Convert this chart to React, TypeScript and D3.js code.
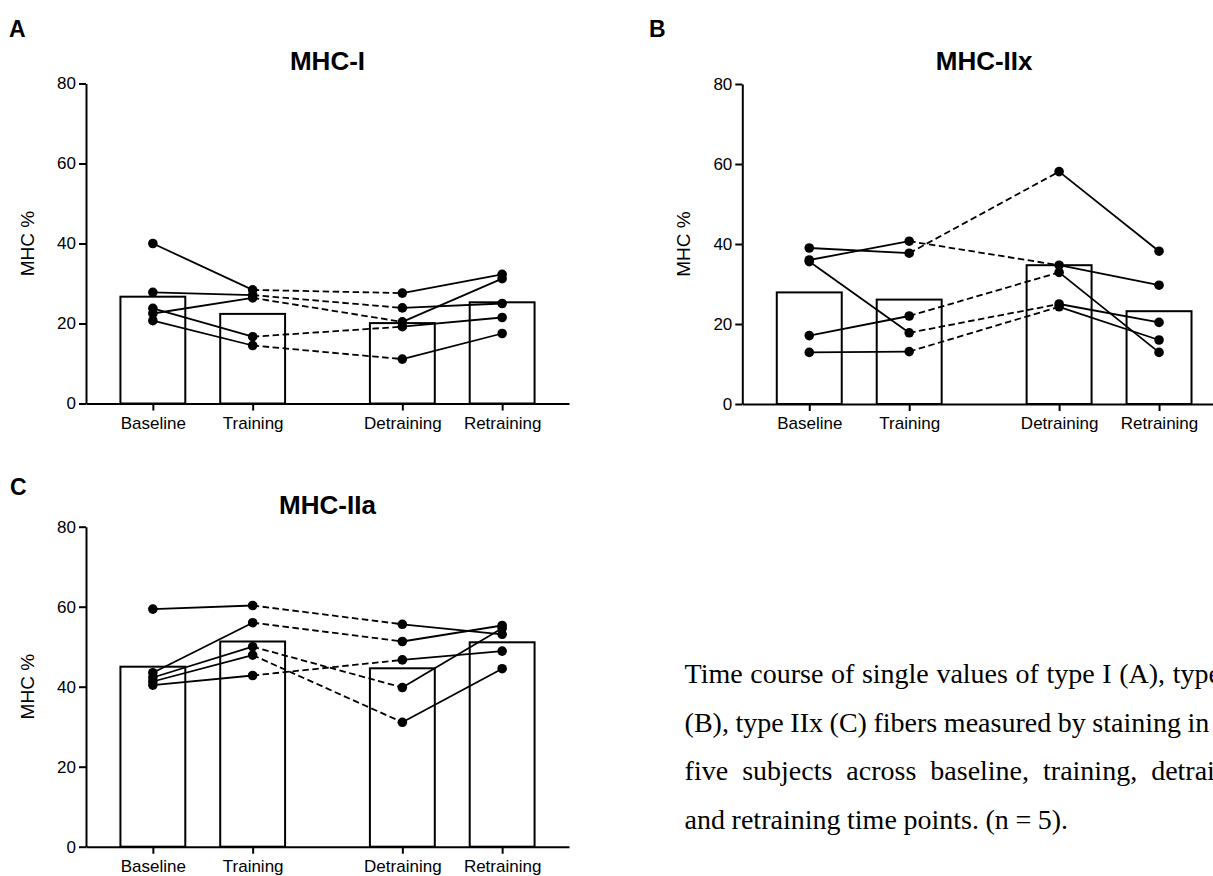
import React, { useRef, useEffect } from 'react';
import * as d3 from 'd3';

// time points on the x axis
const timepoints = ['Baseline', 'Training', 'Detraining', 'Retraining'];
const yTicks = [0, 20, 40, 60, 80];

// MHC-I (panel A): bar = group mean, rows = subjects
const mhcIMeans = [26.7, 22.4, 20.1, 25.3];
const mhcISubjects = [
  [40.0, 28.4, 27.6, 32.3],
  [27.8, 27.1, 23.9, 25.0],
  [22.5, 26.4, 20.4, 31.2],
  [23.8, 16.7, 19.2, 21.5],
  [20.7, 14.5, 11.1, 17.5],
];

// MHC-IIx (panel B)
const mhcIIxMeans = [27.9, 26.1, 34.7, 23.2];
const mhcIIxSubjects = [
  [39.0, 37.7, 58.1, 38.2],
  [36.0, 40.7, 34.7, 29.7],
  [17.1, 22.0, 32.9, 12.9],
  [35.6, 17.8, 25.0, 20.4],
  [12.9, 13.1, 24.3, 16.0],
];

// MHC-IIa (panel C)
const mhcIIaMeans = [45.0, 51.3, 44.6, 51.1];
const mhcIIaSubjects = [
  [59.4, 60.3, 55.6, 53.1],
  [43.5, 56.0, 51.3, 55.3],
  [42.3, 50.0, 39.8, 54.6],
  [41.3, 47.9, 31.1, 44.5],
  [40.4, 42.8, 46.7, 48.9],
];

const captionLines = [
  'Time course of single values of type I (A), type IIa',
  '(B), type IIx (C) fibers measured by staining in each of',
  'five subjects across baseline, training, detraining',
  'and retraining time points. (n = 5).',
];

const SANS = "'Liberation Sans', Arial, sans-serif";
const SERIF = "'Liberation Serif', 'Times New Roman', serif";

export default function App() {
  const svgRef = useRef(null);

  useEffect(() => {
    const svg = d3.select(svgRef.current);
    svg.selectAll('*').remove();

    const panels = [
      { letter: 'A', lx: 9, ly: 37, title: 'MHC-I', means: mhcIMeans, subjects: mhcISubjects, left: 86, right: 569, top: 83.5, bottom: 403.5, titleY: 70 },
      { letter: 'B', lx: 649, ly: 37, title: 'MHC-IIx', means: mhcIIxMeans, subjects: mhcIIxSubjects, left: 742.3, right: 1226, top: 84, bottom: 404, titleY: 70 },
      { letter: 'C', lx: 10, ly: 495, title: 'MHC-IIa', means: mhcIIaMeans, subjects: mhcIIaSubjects, left: 86, right: 569, top: 526.7, bottom: 846.7, titleY: 514 },
    ];

    // detraining sits after a gap
    const slot = (i) => i + (i >= 2 ? 0.5 : 0);

    panels.forEach((p) => {
      const g = svg.append('g');
      const x = d3.scaleLinear().domain([-0.67, 4.17]).range([p.left, p.right]);
      const y = d3.scaleLinear().domain([0, 80]).range([p.bottom, p.top]);
      const bw = x(0.65) - x(0);

      // bars
      g.selectAll('rect.bar')
        .data(p.means)
        .join('rect')
        .attr('class', 'bar')
        .attr('x', (d, i) => x(slot(i)) - bw / 2)
        .attr('y', (d) => y(d))
        .attr('width', bw)
        .attr('height', (d) => y(0) - y(d))
        .attr('fill', '#fff')
        .attr('stroke', '#000')
        .attr('stroke-width', 2);

      // subject lines, training -> detraining dashed
      const segs = [];
      p.subjects.forEach((s) => {
        for (let i = 0; i < s.length - 1; i++) {
          segs.push({ i, a: s[i], b: s[i + 1] });
        }
      });
      g.selectAll('line.seg')
        .data(segs)
        .join('line')
        .attr('class', 'seg')
        .attr('x1', (d) => x(slot(d.i)))
        .attr('x2', (d) => x(slot(d.i + 1)))
        .attr('y1', (d) => y(d.a))
        .attr('y2', (d) => y(d.b))
        .attr('stroke', '#000')
        .attr('stroke-width', 1.8)
        .attr('stroke-dasharray', (d) => (d.i === 1 ? '6.5,3.5' : null));

      // dots
      const pts = [];
      p.subjects.forEach((s) => s.forEach((v, i) => pts.push({ i, v })));
      g.selectAll('circle')
        .data(pts)
        .join('circle')
        .attr('cx', (d) => x(slot(d.i)))
        .attr('cy', (d) => y(d.v))
        .attr('r', 4.8)
        .attr('fill', '#000');

      // axes
      const yAxis = d3.axisLeft(y).tickValues(yTicks).tickSize(7).tickPadding(3).tickSizeOuter(0);
      const xAxis = d3.axisBottom(x)
        .tickValues(timepoints.map((t, i) => slot(i)))
        .tickFormat((d, i) => timepoints[i])
        .tickSize(7)
        .tickPadding(6)
        .tickSizeOuter(0);

      const ya = g.append('g').attr('transform', `translate(${p.left},0)`).call(yAxis);
      const xa = g.append('g').attr('transform', `translate(0,${p.bottom})`).call(xAxis);
      [ya, xa].forEach((a) => {
        a.attr('font-family', SANS).attr('font-size', 17);
        a.selectAll('path, line').attr('stroke', '#000').attr('stroke-width', 2);
        a.selectAll('text').attr('fill', '#000');
      });

      // titles and labels
      g.append('text')
        .attr('x', (p.left + p.right) / 2)
        .attr('y', p.titleY)
        .attr('text-anchor', 'middle')
        .attr('font-family', SANS)
        .attr('font-weight', 'bold')
        .attr('font-size', 26)
        .text(p.title);

      g.append('text')
        .attr('x', p.lx)
        .attr('y', p.ly)
        .attr('font-family', SANS)
        .attr('font-weight', 'bold')
        .attr('font-size', 23)
        .text(p.letter);

      g.append('text')
        .attr('transform', `translate(${p.left - 52},${(p.top + p.bottom) / 2}) rotate(-90)`)
        .attr('text-anchor', 'middle')
        .attr('font-family', SANS)
        .attr('font-size', 19)
        .text('MHC %');
    });

    // caption (runs past the right edge, as in the source figure)
    svg.append('g')
      .selectAll('text')
      .data(captionLines)
      .join('text')
      .attr('x', 684.6)
      .attr('y', (d, i) => 683 + i * 48.7)
      .attr('font-family', SERIF)
      .attr('font-size', 28)
      .attr('word-spacing', (d, i) => (i === 2 ? 7 : i === 0 ? 0.6 : -0.4))
      .text((d) => d);
  }, []);

  return (
    <div>
      <svg
        ref={svgRef}
        width={1213}
        height={876}
        style={{ position: 'absolute', left: 0, top: 0, background: '#fff', overflow: 'hidden' }}
      ></svg>
    </div>
  );
}
